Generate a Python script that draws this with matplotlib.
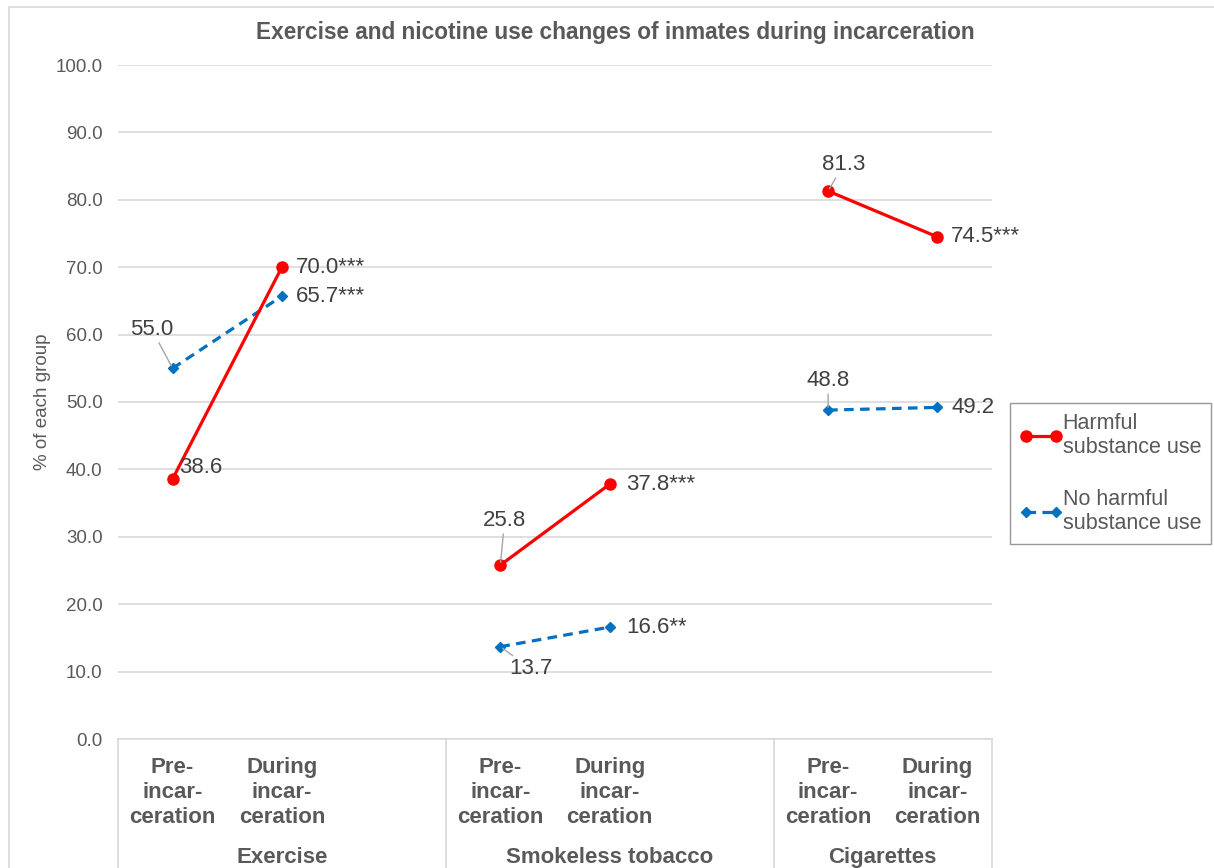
import matplotlib.pyplot as plt
from matplotlib.patches import Rectangle
from matplotlib.transforms import blended_transform_factory

plt.rcParams['font.family'] = ['Liberation Sans', 'DejaVu Sans']

# data
groups = ["Exercise", "Smokeless tobacco", "Cigarettes"]
periods = ["Pre-\nincar-\nceration", "During\nincar-\nceration"]
harmful = [[38.6, 70.0], [25.8, 37.8], [81.3, 74.5]]
no_harmful = [[55.0, 65.7], [13.7, 16.6], [48.8, 49.2]]
harmful_sig = [["", "***"], ["", "***"], ["", "***"]]
no_harmful_sig = [["", "***"], ["", "**"], ["", ""]]
slots_per_group = [3, 3, 2]

red = "#FF0000"
blue = "#0070C0"
txt = "#595959"
grid = "#D9D9D9"

W, H = 1214, 868
fig = plt.figure(figsize=(W / 100, H / 100), dpi=100)
ax = fig.add_axes([118 / W, 1 - 739 / H, (992 - 118) / W, (739 - 65) / H])

# outer chart frame
fig.patches.append(Rectangle((9 / W, -0.01), 1.02, 1 - 7 / H + 0.01, transform=fig.transFigure,
                             fill=False, edgecolor=grid, lw=1.2))

starts = [0]
for s in slots_per_group[:-1]:
    starts.append(starts[-1] + s)
xs = [[st + 0.5, st + 1.5] for st in starts]

for g in range(len(groups)):
    ax.plot(xs[g], harmful[g], color=red, lw=2.3, marker="o", ms=8,
            label="Harmful\nsubstance use" if g == 0 else None, zorder=4)
    ax.plot(xs[g], no_harmful[g], color=blue, lw=2.3, ls=(0, (3, 2)), marker="D", ms=5,
            label="No harmful\nsubstance use" if g == 0 else None, zorder=3)

# label offsets in points (dx, dy, ha, leader)
lab_h = [[(5, 8, "left", False), (10, 0, "left", False)],
         [(3, 32, "center", True), (12, 0, "left", False)],
         [(11, 19, "center", True), (10, 0, "left", False)]]
lab_n = [[(-15, 28, "center", True), (10, 0, "left", False)],
         [(22, -16, "center", True), (12, 0, "left", False)],
         [(0, 21, "center", True), (10, 0, "left", False)]]

def put_labels(vals, sigs, offs):
    for g in range(len(groups)):
        for i in range(2):
            dx, dy, ha, lead = offs[g][i]
            s = f"{vals[g][i]:.1f}{sigs[g][i]}"
            ap = dict(arrowstyle="-", color="#A6A6A6", lw=1, shrinkA=0, shrinkB=2) if lead else None
            ax.annotate(s, (xs[g][i], vals[g][i]), xytext=(dx, dy), textcoords="offset points",
                        ha=ha, va="center", fontsize=16, color="#404040", arrowprops=ap, zorder=5)

put_labels(harmful, harmful_sig, lab_h)
put_labels(no_harmful, no_harmful_sig, lab_n)

ax.set_xlim(0, sum(slots_per_group))
ax.set_ylim(0, 100)
ax.set_yticks(range(0, 101, 10))
ax.set_yticklabels([f"{v:.1f}" for v in range(0, 101, 10)], fontsize=13.5, color=txt)
ax.yaxis.grid(True, color=grid, lw=1.2)
ax.set_axisbelow(True)
ax.tick_params(axis="y", length=0, pad=11)
ax.set_xticks([])
for sp in ["top", "right", "left"]:
    ax.spines[sp].set_visible(False)
ax.spines["bottom"].set_color(grid)
ax.spines["bottom"].set_linewidth(1.2)
ax.set_ylabel("% of each group", fontsize=13.5, color=txt, labelpad=3.5)

# category axis with group separators
tr = blended_transform_factory(ax.transData, ax.transAxes)
bottom = -(868 - 739) / (739 - 65) - 0.02
for b in starts + [sum(slots_per_group)]:
    ax.plot([b, b], [0, bottom], transform=tr, color=grid, lw=1.2, clip_on=False)
for g, name in enumerate(groups):
    for i, p in enumerate(periods):
        ax.text(xs[g][i], -0.026, p, transform=tr, ha="center", va="top", fontsize=16,
                fontweight="bold", color=txt, linespacing=1.28)
    ax.text(starts[g] + slots_per_group[g] / 2, -0.176, name, transform=tr, ha="center",
            va="center", fontsize=16, fontweight="bold", color=txt)

fig.text(615 / W, 1 - 32 / H, "Exercise and nicotine use changes of inmates during incarceration",
         ha="center", va="center", fontsize=16.3, fontweight="bold", color=txt)

leg = fig.legend(loc="upper left", bbox_to_anchor=(1010 / W, 1 - 403 / H), fontsize=15.5,
                 frameon=True, fancybox=False, edgecolor="#7F7F7F", numpoints=2,
                 handlelength=2.0, handletextpad=0.0, labelspacing=1.45, borderpad=0.45,
                 borderaxespad=0)
for t in leg.get_texts():
    t.set_color(txt)
leg.get_frame().set_linewidth(1.0)

fig.savefig("out.png", dpi=100)
